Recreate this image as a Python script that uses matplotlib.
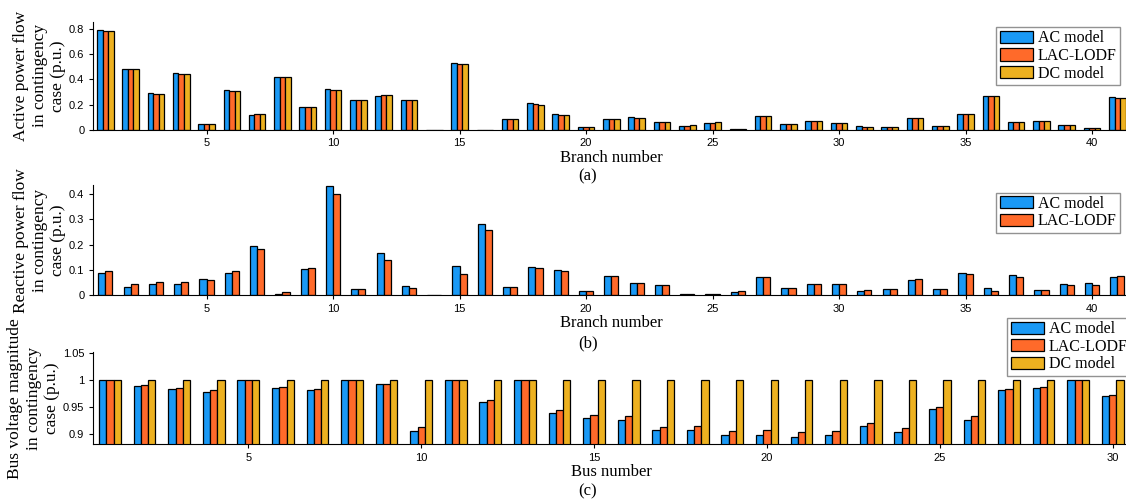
import numpy as np
import matplotlib
matplotlib.use('Agg')
import matplotlib.pyplot as plt
from matplotlib.ticker import FuncFormatter

W, H = 1126, 504

# active power flow per branch (p.u.)
p_ac = [0.79, 0.485, 0.29, 0.45, 0.045, 0.315, 0.12, 0.42, 0.18, 0.32,
        0.24, 0.27, 0.24, 0.0, 0.53, 0.0, 0.09, 0.21, 0.125, 0.025,
        0.087, 0.10, 0.063, 0.035, 0.058, 0.005, 0.11, 0.045, 0.07, 0.053,
        0.028, 0.02, 0.095, 0.035, 0.13, 0.27, 0.066, 0.07, 0.037, 0.015,
        0.26]
p_lac = [0.78, 0.48, 0.285, 0.445, 0.045, 0.31, 0.125, 0.415, 0.18, 0.315,
         0.24, 0.275, 0.24, 0.0, 0.525, 0.0, 0.09, 0.205, 0.12, 0.025,
         0.087, 0.097, 0.063, 0.035, 0.058, 0.005, 0.11, 0.045, 0.07, 0.053,
         0.027, 0.02, 0.095, 0.035, 0.128, 0.265, 0.066, 0.07, 0.037, 0.013,
         0.255]
p_dc = [0.78, 0.48, 0.285, 0.445, 0.045, 0.31, 0.13, 0.415, 0.18, 0.315,
        0.24, 0.28, 0.24, 0.0, 0.52, 0.0, 0.09, 0.20, 0.115, 0.025,
        0.085, 0.095, 0.063, 0.038, 0.06, 0.01, 0.11, 0.045, 0.07, 0.053,
        0.026, 0.02, 0.095, 0.035, 0.128, 0.265, 0.066, 0.07, 0.037, 0.012,
        0.255]

# reactive power flow per branch (p.u.)
q_ac = [0.087, 0.032, 0.046, 0.044, 0.065, 0.09, 0.196, 0.005, 0.103, 0.433,
        0.024, 0.166, 0.036, 0.001, 0.115, 0.282, 0.034, 0.111, 0.099, 0.016,
        0.075, 0.05, 0.04, 0.004, 0.007, 0.015, 0.072, 0.028, 0.044, 0.044,
        0.017, 0.026, 0.06, 0.025, 0.089, 0.028, 0.079, 0.021, 0.046, 0.05,
        0.073]
q_lac = [0.095, 0.044, 0.054, 0.052, 0.062, 0.094, 0.183, 0.012, 0.109, 0.399,
         0.025, 0.139, 0.029, 0.001, 0.086, 0.257, 0.033, 0.106, 0.094, 0.016,
         0.075, 0.049, 0.04, 0.007, 0.007, 0.017, 0.072, 0.028, 0.046, 0.044,
         0.02, 0.026, 0.064, 0.025, 0.086, 0.017, 0.072, 0.019, 0.042, 0.041,
         0.077]

# bus voltage magnitude (p.u.)
v_ac = [1.0, 0.9895, 0.9833, 0.979, 1.0, 0.985, 0.9815, 1.0, 0.9926, 0.905,
        1.0, 0.9593, 1.0, 0.939, 0.93, 0.927, 0.9067, 0.908, 0.8975, 0.8988,
        0.895, 0.8975, 0.9148, 0.9043, 0.9463, 0.927, 0.9815, 0.9858, 1.0, 0.9716]
v_lac = [1.0, 0.9907, 0.985, 0.9815, 1.0, 0.987, 0.983, 1.0, 0.993, 0.913,
         1.0, 0.9636, 1.0, 0.9444, 0.936, 0.934, 0.914, 0.915, 0.905, 0.9067,
         0.9037, 0.906, 0.921, 0.911, 0.9506, 0.9327, 0.984, 0.9877, 1.0, 0.9728]
v_dc = [1.0] * 30

blue = '#1A99F5'
orange = '#FF6A2A'
gold = '#EDB120'

plt.rcParams['font.family'] = ['Liberation Serif', 'DejaVu Serif']

fig = plt.figure(figsize=(W / 100, H / 100), dpi=100)


def add_axes(left, right, top, bottom):
    return fig.add_axes([left / W, 1 - bottom / H, (right - left) / W, (bottom - top) / H])


def style(ax, xlabel, ylabel, n):
    ax.spines['top'].set_visible(False)
    ax.spines['right'].set_visible(False)
    ax.set_xlim(0.5, n + 0.5)
    ax.set_xticks(range(5, n + 1, 5))
    ax.tick_params(direction='out', length=3, width=0.8, labelsize=8, pad=3)
    for lab in ax.get_xticklabels() + ax.get_yticklabels():
        lab.set_family('Liberation Sans')
    ax.set_xlabel(xlabel, fontsize=12, labelpad=1)
    ax.set_ylabel(ylabel, fontsize=12.5, linespacing=1.2, labelpad=2)
    ax.yaxis.set_major_formatter(FuncFormatter(lambda v, p: '%g' % round(v, 3)))


def legend(ax, handles, labels, bbox):
    leg = ax.legend(handles, labels, loc='upper right', bbox_to_anchor=bbox,
                    bbox_transform=fig.transFigure, fontsize=11.5, frameon=True,
                    fancybox=False, handlelength=2.1, handleheight=0.8,
                    handletextpad=0.3, borderpad=0.2, labelspacing=0.1,
                    borderaxespad=0)
    leg.get_frame().set_edgecolor('#777777')
    leg.get_frame().set_linewidth(1.0)


bar_kw = dict(edgecolor='black', linewidth=0.9)

# (a) active power flow
ax1 = add_axes(92.7, 1130, 21.7, 130)
x = np.arange(1, len(p_ac) + 1)
w = 0.22
b1 = ax1.bar(x - w, p_ac, w, color=blue, **bar_kw)
b2 = ax1.bar(x, p_lac, w, color=orange, **bar_kw)
b3 = ax1.bar(x + w, p_dc, w, color=gold, **bar_kw)
ax1.set_ylim(0, 0.855)
ax1.set_yticks([0, 0.2, 0.4, 0.6, 0.8])
style(ax1, 'Branch number', 'Active power flow\nin contingency\ncase (p.u.)', len(p_ac))
legend(ax1, [b1, b2, b3], ['AC model', 'LAC-LODF', 'DC model'], (1120 / W, 1 - 27.3 / H))
fig.text(588 / W, 1 - 176.7 / H, '(a)', ha='center', va='center', fontsize=12)

# (b) reactive power flow
ax2 = add_axes(92.7, 1130, 185.4, 295.3)
w = 0.28
c1 = ax2.bar(x - w / 2, q_ac, w, color=blue, **bar_kw)
c2 = ax2.bar(x + w / 2, q_lac, w, color=orange, **bar_kw)
ax2.set_ylim(0, 0.434)
ax2.set_yticks([0, 0.1, 0.2, 0.3, 0.4])
style(ax2, 'Branch number', 'Reactive power flow\nin contingency\ncase (p.u.)', len(q_ac))
legend(ax2, [c1, c2], ['AC model', 'LAC-LODF'], (1120 / W, 1 - 192.7 / H))
fig.text(588 / W, 1 - 343 / H, '(b)', ha='center', va='center', fontsize=12)

# (c) bus voltage magnitude
ax3 = add_axes(92.7, 1130, 352.3, 444.3)
xb = np.arange(1, len(v_ac) + 1)
w = 0.21
d1 = ax3.bar(xb - w, v_ac, w, color=blue, **bar_kw)
d2 = ax3.bar(xb, v_lac, w, color=orange, **bar_kw)
d3 = ax3.bar(xb + w, v_dc, w, color=gold, **bar_kw)
ax3.set_ylim(0.881, 1.052)
ax3.set_yticks([0.9, 0.95, 1.0, 1.05])
style(ax3, 'Bus number', 'Bus voltage magnitude\nin contingency\ncase (p.u.)', len(v_ac))
legend(ax3, [d1, d2, d3], ['AC model', 'LAC-LODF', 'DC model'], (1131 / W, 1 - 318 / H))
fig.text(588 / W, 1 - 491 / H, '(c)', ha='center', va='center', fontsize=12)

fig.savefig('out.png', dpi=100)
